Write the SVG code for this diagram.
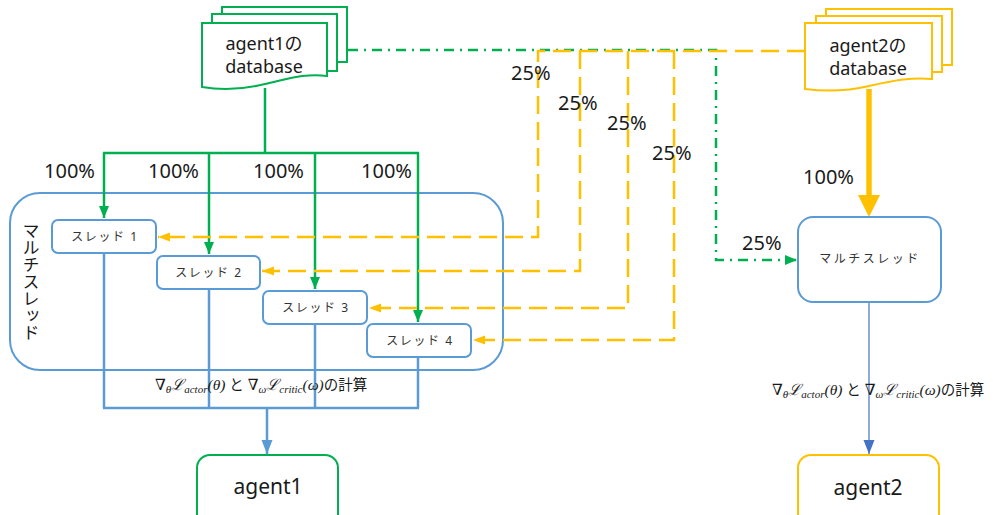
<svg xmlns="http://www.w3.org/2000/svg" width="993" height="515" viewBox="0 0 993 515">
<style>
.t{font-family:"Noto Sans","Noto Sans CJK JP",sans-serif;fill:#1a1a1a}
.lbl{font-size:20px}
.db{font-size:18px;text-anchor:middle}
.th{font-size:12px;text-anchor:middle;letter-spacing:1.6px;fill:#333}
.f{font-family:"Liberation Serif","DejaVu Serif","Noto Sans CJK JP",serif;font-size:15.5px;font-style:italic;fill:#1a1a1a}
.fj{font-family:"Noto Sans CJK JP",sans-serif;font-style:normal;font-size:14.5px}
.sub{font-size:11px}
.g{stroke:#00B050;stroke-width:2.5;fill:none}
.y{stroke:#FFC000;stroke-width:2.5;fill:none;stroke-dasharray:18 8}
.gd{stroke:#00B050;stroke-width:2.5;fill:none;stroke-dasharray:10 6 2 6}
.b{stroke:#5B9BD5;stroke-width:2.5;fill:none}
.box{fill:#fff;stroke:#5B9BD5;stroke-width:2}
</style>
<defs>
<marker id="ag" markerUnits="userSpaceOnUse" markerWidth="12" markerHeight="12" viewBox="0 0 12 12" refX="12" refY="6" orient="auto"><path d="M0,1 L12,6 L0,11 Z" fill="#00B050"/></marker>
<marker id="ay" markerUnits="userSpaceOnUse" markerWidth="12" markerHeight="12" viewBox="0 0 12 12" refX="12" refY="6" orient="auto"><path d="M0,1.5 L12,6 L0,10.5 Z" fill="#FFC000"/></marker>
<marker id="ab" markerUnits="userSpaceOnUse" markerWidth="14" markerHeight="14" viewBox="0 0 14 14" refX="14" refY="7" orient="auto"><path d="M0,1.5 L14,7 L0,12.5 Z" fill="#5B9BD5"/></marker>
<marker id="ab2" markerUnits="userSpaceOnUse" markerWidth="14" markerHeight="14" viewBox="0 0 14 14" refX="14" refY="7" orient="auto"><path d="M0,1.5 L14,7 L0,12.5 Z" fill="#4472C4"/></marker>
</defs>

<g id="multithread1">
<rect x="10" y="193" width="493" height="177" rx="30" fill="none" stroke="#5B9BD5" stroke-width="2"/>
<text class="t" x="30" y="222" style="writing-mode:vertical-rl;font-size:17px">マルチスレッド</text>
</g>

<g id="connectors">
<path class="g" d="M265,88 V153 M103,153 H419"/>
<path class="g" d="M104,153 V218" marker-end="url(#ag)"/>
<path class="g" d="M209,153 V254" marker-end="url(#ag)"/>
<path class="g" d="M315,153 V289" marker-end="url(#ag)"/>
<path class="g" d="M418,153 V322" marker-end="url(#ag)"/>
<path class="gd" d="M348,50 H716 V260 H797" marker-end="url(#ag)"/>
<path class="y" d="M805,51 H538 V237 H158" marker-end="url(#ay)"/>
<path class="y" d="M580,51 V271 H262" marker-end="url(#ay)"/>
<path class="y" d="M628,51 V308 H369" marker-end="url(#ay)"/>
<path class="y" d="M674,51 V340 H473" marker-end="url(#ay)"/>
<path class="b" d="M104,253 V408 M209,289 V408 M315,324 V408 M418,357 V408 M103,408 H419"/>
<path class="b" d="M267,408 V454" marker-end="url(#ab)"/>
<path d="M869,89 V197" stroke="#FFC000" stroke-width="5.5" fill="none"/>
<polygon points="858,195 880,195 869,217" fill="#FFC000"/>
<path d="M869,303 V454" stroke="#4472C4" stroke-width="1.2" fill="none" marker-end="url(#ab2)"/>
</g>

<g id="db1">
<rect x="222" y="7" width="125" height="55" fill="#fff" stroke="#00B050" stroke-width="2"/>
<rect x="212" y="14" width="125" height="57" fill="#fff" stroke="#00B050" stroke-width="2"/>
<path d="M202,23 H327 V76 C305,73 288,79 265,84 C245,89 225,91 202,87 Z" fill="#fff" stroke="#00B050" stroke-width="2"/>
<text class="t db" x="264" y="50">agent1の</text>
<text class="t db" x="264" y="73">database</text>
</g>

<g id="db2">
<rect x="826" y="9" width="126" height="56" fill="#fff" stroke="#FFC000" stroke-width="2"/>
<rect x="816" y="16" width="126" height="56" fill="#fff" stroke="#FFC000" stroke-width="2"/>
<path d="M805,23 H932 V79 C910,77 892,81 869,86 C848,91 828,92 805,89 Z" fill="#fff" stroke="#FFC000" stroke-width="2"/>
<text class="t db" x="868" y="52">agent2の</text>
<text class="t db" x="868" y="75">database</text>
</g>

<g id="thread1"><rect class="box" x="52" y="220" width="104" height="33" rx="6"/><text class="t th" x="105" y="241">スレッド 1</text></g>
<g id="thread2"><rect class="box" x="157" y="256" width="103" height="33" rx="6"/><text class="t th" x="209" y="277">スレッド 2</text></g>
<g id="thread3"><rect class="box" x="263" y="291" width="104" height="33" rx="6"/><text class="t th" x="316" y="312">スレッド 3</text></g>
<g id="thread4"><rect class="box" x="367" y="324" width="104" height="33" rx="6"/><text class="t th" x="420" y="345">スレッド 4</text></g>

<g id="multithread2">
<rect class="box" x="798" y="217" width="143" height="85" rx="15"/>
<text class="t th" x="870" y="263" style="letter-spacing:2.5px">マルチスレッド</text>
</g>

<g id="agent1">
<rect x="197" y="455" width="141" height="75" rx="13" fill="#fff" stroke="#00B050" stroke-width="2"/>
<text class="t" x="268" y="494" style="font-size:21px;text-anchor:middle">agent1</text>
</g>
<g id="agent2">
<rect x="798" y="455" width="141" height="75" rx="13" fill="#fff" stroke="#FFC000" stroke-width="2"/>
<text class="t" x="868" y="495" style="font-size:21px;text-anchor:middle">agent2</text>
</g>

<g id="labels">
<text class="t lbl" x="44" y="178">100%</text>
<text class="t lbl" x="148" y="178">100%</text>
<text class="t lbl" x="253" y="178">100%</text>
<text class="t lbl" x="361" y="178">100%</text>
<text class="t lbl" x="511" y="80">25%</text>
<text class="t lbl" x="558" y="110">25%</text>
<text class="t lbl" x="607" y="130">25%</text>
<text class="t lbl" x="652" y="160">25%</text>
<text class="t lbl" x="742" y="250">25%</text>
<text class="t lbl" x="803" y="184">100%</text>
<text class="f" x="155" y="390">∇<tspan class="sub" dy="3">θ</tspan><tspan dy="-3">ℒ</tspan><tspan class="sub" dy="3">actor</tspan><tspan dy="-3">(θ) </tspan><tspan class="fj">と</tspan> ∇<tspan class="sub" dy="3">ω</tspan><tspan dy="-3">ℒ</tspan><tspan class="sub" dy="3">critic</tspan><tspan dy="-3">(ω)</tspan><tspan class="fj">の計算</tspan></text>
<text class="f" x="772" y="395">∇<tspan class="sub" dy="3">θ</tspan><tspan dy="-3">ℒ</tspan><tspan class="sub" dy="3">actor</tspan><tspan dy="-3">(θ) </tspan><tspan class="fj">と</tspan> ∇<tspan class="sub" dy="3">ω</tspan><tspan dy="-3">ℒ</tspan><tspan class="sub" dy="3">critic</tspan><tspan dy="-3">(ω)</tspan><tspan class="fj">の計算</tspan></text>
</g>
</svg>
